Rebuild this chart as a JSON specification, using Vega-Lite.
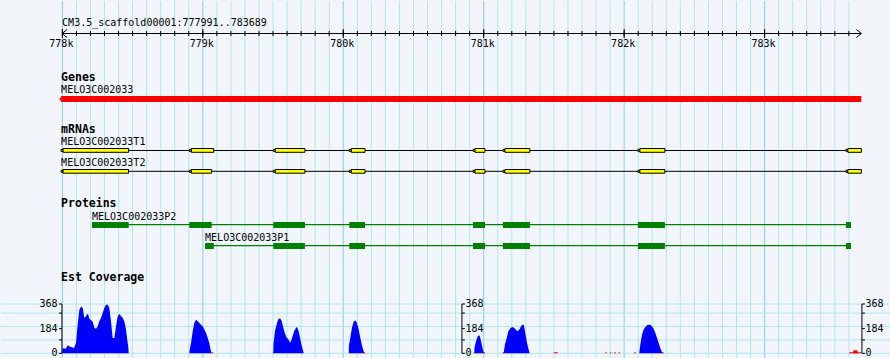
{
"$schema": "https://vega.github.io/schema/vega-lite/v6.json",
"padding": 0,
"spacing": 0,
"bounds": "flush",
"background": "#f2f5fa",
"config": {"view": {"stroke": null}, "concat": {"spacing": 0}, "text": {"font": "DejaVu Sans Mono", "fontSize": 10, "color": "black", "baseline": "alphabetic", "align": "left"}},
"datasets": {
"grid": [{"pos":778000},{"pos":778100},{"pos":778200},{"pos":778300},{"pos":778400},{"pos":778500},{"pos":778600},{"pos":778700},{"pos":778800},{"pos":778900},
{"pos":779000},{"pos":779100},{"pos":779200},{"pos":779300},{"pos":779400},{"pos":779500},{"pos":779600},{"pos":779700},{"pos":779800},{"pos":779900},
{"pos":780000},{"pos":780100},{"pos":780200},{"pos":780300},{"pos":780400},{"pos":780500},{"pos":780600},{"pos":780700},{"pos":780800},{"pos":780900},
{"pos":781000},{"pos":781100},{"pos":781200},{"pos":781300},{"pos":781400},{"pos":781500},{"pos":781600},{"pos":781700},{"pos":781800},{"pos":781900},
{"pos":782000},{"pos":782100},{"pos":782200},{"pos":782300},{"pos":782400},{"pos":782500},{"pos":782600},{"pos":782700},{"pos":782800},{"pos":782900},
{"pos":783000},{"pos":783100},{"pos":783200},{"pos":783300},{"pos":783400},{"pos":783500},{"pos":783600}],
"kb": [{"pos":778000,"label":"778k"},{"pos":779000,"label":"779k"},{"pos":780000,"label":"780k"},{"pos":781000,"label":"781k"},{"pos":782000,"label":"782k"},{"pos":783000,"label":"783k"}],
"gene": [{"name":"MELO3C002033","start":777991,"end":783689}],
"tx": [{"tx":"MELO3C002033T1","start":777991,"end":783689},{"tx":"MELO3C002033T2","start":777991,"end":783689}],
"exons": [
{"tx":"MELO3C002033T1","start":778005,"end":778472},{"tx":"MELO3C002033T1","start":778918,"end":779078},{"tx":"MELO3C002033T1","start":779516,"end":779727},{"tx":"MELO3C002033T1","start":780057,"end":780155},
{"tx":"MELO3C002033T1","start":780938,"end":781009},{"tx":"MELO3C002033T1","start":781151,"end":781329},{"tx":"MELO3C002033T1","start":782112,"end":782290},{"tx":"MELO3C002033T1","start":783593,"end":783689},
{"tx":"MELO3C002033T2","start":778005,"end":778472},{"tx":"MELO3C002033T2","start":778918,"end":779063},{"tx":"MELO3C002033T2","start":779516,"end":779727},{"tx":"MELO3C002033T2","start":780057,"end":780155},
{"tx":"MELO3C002033T2","start":780938,"end":781009},{"tx":"MELO3C002033T2","start":781151,"end":781329},{"tx":"MELO3C002033T2","start":782112,"end":782290},{"tx":"MELO3C002033T2","start":783593,"end":783689}],
"prot": [{"p":"MELO3C002033P2","start":778211,"end":783615},{"p":"MELO3C002033P1","start":779016,"end":783615}],
"cds": [
{"p":"MELO3C002033P2","start":778211,"end":778472},{"p":"MELO3C002033P2","start":778904,"end":779063},{"p":"MELO3C002033P2","start":779502,"end":779727},{"p":"MELO3C002033P2","start":780043,"end":780155},
{"p":"MELO3C002033P2","start":780924,"end":781009},{"p":"MELO3C002033P2","start":781137,"end":781329},{"p":"MELO3C002033P2","start":782098,"end":782290},{"p":"MELO3C002033P2","start":783579,"end":783615},
{"p":"MELO3C002033P1","start":779016,"end":779078},{"p":"MELO3C002033P1","start":779502,"end":779727},{"p":"MELO3C002033P1","start":780043,"end":780155},
{"p":"MELO3C002033P1","start":780924,"end":781009},{"p":"MELO3C002033P1","start":781137,"end":781329},{"p":"MELO3C002033P1","start":782098,"end":782290},{"p":"MELO3C002033P1","start":783579,"end":783615}],
"cov": [
{"seg":1,"pos":777997,"v":0},{"seg":1,"pos":778000,"v":35},{"seg":1,"pos":778026,"v":35},{"seg":1,"pos":778038,"v":60},{"seg":1,"pos":778050,"v":50},{"seg":1,"pos":778062,"v":47},{"seg":1,"pos":778083,"v":40},{"seg":1,"pos":778097,"v":77},{"seg":1,"pos":778109,"v":214},{"seg":1,"pos":778121,"v":326},{"seg":1,"pos":778133,"v":350},{"seg":1,"pos":778145,"v":338},{"seg":1,"pos":778156,"v":263},{"seg":1,"pos":778168,"v":276},{"seg":1,"pos":778176,"v":293},{"seg":1,"pos":778185,"v":288},{"seg":1,"pos":778192,"v":256},{"seg":1,"pos":778204,"v":251},{"seg":1,"pos":778216,"v":234},{"seg":1,"pos":778228,"v":189},{"seg":1,"pos":778240,"v":184},{"seg":1,"pos":778252,"v":201},{"seg":1,"pos":778263,"v":239},{"seg":1,"pos":778275,"v":264},{"seg":1,"pos":778287,"v":301},{"seg":1,"pos":778299,"v":338},{"seg":1,"pos":778311,"v":363},{"seg":1,"pos":778323,"v":363},{"seg":1,"pos":778334,"v":338},{"seg":1,"pos":778346,"v":239},{"seg":1,"pos":778358,"v":114},{"seg":1,"pos":778370,"v":114},{"seg":1,"pos":778382,"v":201},{"seg":1,"pos":778394,"v":276},{"seg":1,"pos":778405,"v":293},{"seg":1,"pos":778418,"v":276},{"seg":1,"pos":778430,"v":264},{"seg":1,"pos":778441,"v":239},{"seg":1,"pos":778453,"v":177},{"seg":1,"pos":778465,"v":77},{"seg":1,"pos":778470,"v":40},{"seg":1,"pos":778472,"v":0},
{"seg":2,"pos":778904,"v":0},{"seg":2,"pos":778905,"v":20},{"seg":2,"pos":778916,"v":77},{"seg":2,"pos":778928,"v":164},{"seg":2,"pos":778939,"v":226},{"seg":2,"pos":778952,"v":251},{"seg":2,"pos":778964,"v":239},{"seg":2,"pos":778975,"v":226},{"seg":2,"pos":778987,"v":214},{"seg":2,"pos":778999,"v":201},{"seg":2,"pos":779011,"v":177},{"seg":2,"pos":779023,"v":152},{"seg":2,"pos":779035,"v":114},{"seg":2,"pos":779046,"v":77},{"seg":2,"pos":779058,"v":15},{"seg":2,"pos":779063,"v":0},
{"seg":3,"pos":779502,"v":0},{"seg":3,"pos":779503,"v":67},{"seg":3,"pos":779514,"v":167},{"seg":3,"pos":779526,"v":216},{"seg":3,"pos":779537,"v":254},{"seg":3,"pos":779550,"v":261},{"seg":3,"pos":779562,"v":241},{"seg":3,"pos":779573,"v":191},{"seg":3,"pos":779585,"v":147},{"seg":3,"pos":779597,"v":117},{"seg":3,"pos":779609,"v":104},{"seg":3,"pos":779621,"v":80},{"seg":3,"pos":779628,"v":92},{"seg":3,"pos":779640,"v":129},{"seg":3,"pos":779651,"v":167},{"seg":3,"pos":779664,"v":191},{"seg":3,"pos":779671,"v":196},{"seg":3,"pos":779680,"v":172},{"seg":3,"pos":779687,"v":142},{"seg":3,"pos":779699,"v":80},{"seg":3,"pos":779711,"v":30},{"seg":3,"pos":779718,"v":0},
{"seg":4,"pos":780039,"v":0},{"seg":4,"pos":780040,"v":55},{"seg":4,"pos":780050,"v":117},{"seg":4,"pos":780062,"v":191},{"seg":4,"pos":780074,"v":236},{"seg":4,"pos":780084,"v":246},{"seg":4,"pos":780096,"v":229},{"seg":4,"pos":780107,"v":191},{"seg":4,"pos":780119,"v":129},{"seg":4,"pos":780131,"v":67},{"seg":4,"pos":780143,"v":22},{"seg":4,"pos":780150,"v":0},
{"seg":5,"pos":780933,"v":0},{"seg":5,"pos":780934,"v":40},{"seg":5,"pos":780945,"v":90},{"seg":5,"pos":780957,"v":127},{"seg":5,"pos":780969,"v":134},{"seg":5,"pos":780976,"v":114},{"seg":5,"pos":780986,"v":65},{"seg":5,"pos":780997,"v":15},{"seg":5,"pos":781004,"v":0},
{"seg":6,"pos":781142,"v":0},{"seg":6,"pos":781144,"v":15},{"seg":6,"pos":781151,"v":65},{"seg":6,"pos":781164,"v":114},{"seg":6,"pos":781175,"v":164},{"seg":6,"pos":781187,"v":184},{"seg":6,"pos":781199,"v":194},{"seg":6,"pos":781211,"v":194},{"seg":6,"pos":781223,"v":184},{"seg":6,"pos":781235,"v":169},{"seg":6,"pos":781246,"v":169},{"seg":6,"pos":781258,"v":184},{"seg":6,"pos":781265,"v":201},{"seg":6,"pos":781277,"v":214},{"seg":6,"pos":781285,"v":214},{"seg":6,"pos":781294,"v":164},{"seg":6,"pos":781306,"v":90},{"seg":6,"pos":781317,"v":40},{"seg":6,"pos":781327,"v":0},
{"seg":7,"pos":782108,"v":0},{"seg":7,"pos":782109,"v":15},{"seg":7,"pos":782115,"v":65},{"seg":7,"pos":782127,"v":139},{"seg":7,"pos":782139,"v":177},{"seg":7,"pos":782150,"v":194},{"seg":7,"pos":782162,"v":209},{"seg":7,"pos":782175,"v":214},{"seg":7,"pos":782186,"v":214},{"seg":7,"pos":782198,"v":201},{"seg":7,"pos":782210,"v":184},{"seg":7,"pos":782222,"v":152},{"seg":7,"pos":782234,"v":114},{"seg":7,"pos":782246,"v":77},{"seg":7,"pos":782257,"v":40},{"seg":7,"pos":782269,"v":10},{"seg":7,"pos":782274,"v":0}],
"low": [{"a":779063,"b":779074,"v":8},{"a":779497,"b":779505,"v":8},{"a":780143,"b":780156,"v":8},{"a":780929,"b":780938,"v":8},{"a":781000,"b":781010,"v":8},{"a":781135,"b":781147,"v":8},{"a":781500,"b":781527,"v":8},{"a":781865,"b":781875,"v":8},{"a":781899,"b":781908,"v":8},{"a":781930,"b":781940,"v":8},{"a":781961,"b":781970,"v":8},{"a":782072,"b":782084,"v":8},{"a":782269,"b":782281,"v":8},{"a":783603,"b":783686,"v":8},{"a":783631,"b":783662,"v":22}],
"covgrid": [{"v":0},{"v":100},{"v":200},{"v":300},{"v":368}],
"covticks": [{"v":0},{"v":100},{"v":184},{"v":300},{"v":368}],
"covlabels": [{"v":0},{"v":184},{"v":368}]
},
"vconcat": [
{"width": 890, "height": 290,
"layer": [
{"data": {"name": "grid"}, "mark": {"type": "rule", "strokeWidth": 1},
 "encoding": {"x": {"field": "pos", "type": "quantitative", "scale": {"domain": [777563, 783900], "nice": false, "zero": false}, "axis": null},
  "color": {"condition": {"test": "datum.pos % 1000 === 0", "value": "#8ccaec"}, "value": "#aee8ef"}}},
{"data": {"name": "grid"}, "mark": {"type": "rule", "color": "black", "strokeWidth": 1},
 "encoding": {"x": {"field": "pos", "type": "quantitative", "scale": {"domain": [777563, 783900], "nice": false, "zero": false}, "axis": null},
  "y": {"datum": 30, "type": "quantitative", "scale": {"domain": [290, 0], "nice": false, "zero": false}, "axis": null}, "y2": {"datum": 35}}},
{"data": {"name": "grid"}, "transform": [{"filter": "datum.pos % 1000 === 0"}], "mark": {"type": "rule", "color": "black", "strokeWidth": 1},
 "encoding": {"x": {"field": "pos", "type": "quantitative", "scale": {"domain": [777563, 783900], "nice": false, "zero": false}, "axis": null},
  "y": {"datum": 28, "type": "quantitative", "scale": {"domain": [290, 0], "nice": false, "zero": false}, "axis": null}, "y2": {"datum": 37}}},
{"data": {"values": [{"a": 777998, "b": 783689}]}, "mark": {"type": "rule", "color": "black", "strokeWidth": 1},
 "encoding": {"x": {"field": "a", "type": "quantitative", "scale": {"domain": [777563, 783900], "nice": false, "zero": false}, "axis": null}, "x2": {"field": "b"},
  "y": {"datum": 32.5, "type": "quantitative", "scale": {"domain": [290, 0], "nice": false, "zero": false}, "axis": null}}},
{"data": {"values": [{"a": 777998}]}, "mark": {"type": "point", "shape": "M 1.25 -1 L 0 0 L 1.25 1", "size": 64, "filled": false, "color": "black", "strokeWidth": 1, "opacity": 1},
 "encoding": {"x": {"field": "a", "type": "quantitative", "scale": {"domain": [777563, 783900], "nice": false, "zero": false}, "axis": null},
  "y": {"datum": 32.5, "type": "quantitative", "scale": {"domain": [290, 0], "nice": false, "zero": false}, "axis": null}}},
{"data": {"values": [{"a": 783689}]}, "mark": {"type": "point", "shape": "M -1.25 -1 L 0 0 L -1.25 1", "size": 64, "filled": false, "color": "black", "strokeWidth": 1, "opacity": 1},
 "encoding": {"x": {"field": "a", "type": "quantitative", "scale": {"domain": [777563, 783900], "nice": false, "zero": false}, "axis": null},
  "y": {"datum": 32.5, "type": "quantitative", "scale": {"domain": [290, 0], "nice": false, "zero": false}, "axis": null}}},
{"data": {"name": "kb"}, "mark": {"type": "text", "align": "center", "dx": -1},
 "encoding": {"x": {"field": "pos", "type": "quantitative", "scale": {"domain": [777563, 783900], "nice": false, "zero": false}, "axis": null},
  "y": {"datum": 46, "type": "quantitative", "scale": {"domain": [290, 0], "nice": false, "zero": false}, "axis": null}, "text": {"field": "label"}}},
{"data": {"values": [{"t": "CM3.5_scaffold00001:777991..783689", "a": 777998}]}, "mark": {"type": "text"},
 "encoding": {"x": {"field": "a", "type": "quantitative", "scale": {"domain": [777563, 783900], "nice": false, "zero": false}, "axis": null},
  "y": {"datum": 25, "type": "quantitative", "scale": {"domain": [290, 0], "nice": false, "zero": false}, "axis": null}, "text": {"field": "t"}}},
{"data": {"values": [{"t": "Genes", "a": 777991}]}, "mark": {"type": "text", "fontWeight": "bold", "fontSize": 11.5},
 "encoding": {"x": {"field": "a", "type": "quantitative", "scale": {"domain": [777563, 783900], "nice": false, "zero": false}, "axis": null},
  "y": {"datum": 80, "type": "quantitative", "scale": {"domain": [290, 0], "nice": false, "zero": false}, "axis": null}, "text": {"field": "t"}}},
{"data": {"name": "gene"}, "mark": {"type": "text"},
 "encoding": {"x": {"field": "start", "type": "quantitative", "scale": {"domain": [777563, 783900], "nice": false, "zero": false}, "axis": null},
  "y": {"datum": 92, "type": "quantitative", "scale": {"domain": [290, 0], "nice": false, "zero": false}, "axis": null}, "text": {"field": "name"}}},
{"data": {"name": "gene"}, "mark": {"type": "rect", "color": "#ff0000"},
 "encoding": {"x": {"field": "start", "type": "quantitative", "scale": {"domain": [777563, 783900], "nice": false, "zero": false}, "axis": null}, "x2": {"field": "end"},
  "y": {"datum": 95, "type": "quantitative", "scale": {"domain": [290, 0], "nice": false, "zero": false}, "axis": null}, "y2": {"datum": 101}}},
{"data": {"name": "gene"}, "mark": {"type": "point", "shape": "M -1 0 L 0 -1 L 0 1 Z", "size": 16, "filled": true, "color": "#ff0000", "opacity": 1},
 "encoding": {"x": {"field": "start", "type": "quantitative", "scale": {"domain": [777563, 783900], "nice": false, "zero": false}, "axis": null},
  "y": {"datum": 98, "type": "quantitative", "scale": {"domain": [290, 0], "nice": false, "zero": false}, "axis": null}}},
{"data": {"values": [{"t": "mRNAs", "a": 777991}]}, "mark": {"type": "text", "fontWeight": "bold", "fontSize": 11.5},
 "encoding": {"x": {"field": "a", "type": "quantitative", "scale": {"domain": [777563, 783900], "nice": false, "zero": false}, "axis": null},
  "y": {"datum": 131.7, "type": "quantitative", "scale": {"domain": [290, 0], "nice": false, "zero": false}, "axis": null}, "text": {"field": "t"}}},
{"data": {"name": "tx"}, "transform": [{"filter": "datum.tx === 'MELO3C002033T1'"}], "mark": {"type": "text"},
 "encoding": {"x": {"field": "start", "type": "quantitative", "scale": {"domain": [777563, 783900], "nice": false, "zero": false}, "axis": null},
  "y": {"datum": 144.3, "type": "quantitative", "scale": {"domain": [290, 0], "nice": false, "zero": false}, "axis": null}, "text": {"field": "tx"}}},
{"data": {"name": "tx"}, "transform": [{"filter": "datum.tx === 'MELO3C002033T2'"}], "mark": {"type": "text"},
 "encoding": {"x": {"field": "start", "type": "quantitative", "scale": {"domain": [777563, 783900], "nice": false, "zero": false}, "axis": null},
  "y": {"datum": 165.3, "type": "quantitative", "scale": {"domain": [290, 0], "nice": false, "zero": false}, "axis": null}, "text": {"field": "tx"}}},
{"data": {"name": "tx"}, "transform": [{"filter": "datum.tx === 'MELO3C002033T1'"}], "mark": {"type": "rule", "color": "black", "strokeWidth": 1},
 "encoding": {"x": {"field": "start", "type": "quantitative", "scale": {"domain": [777563, 783900], "nice": false, "zero": false}, "axis": null}, "x2": {"field": "end"},
  "y": {"datum": 149.5, "type": "quantitative", "scale": {"domain": [290, 0], "nice": false, "zero": false}, "axis": null}}},
{"data": {"name": "tx"}, "transform": [{"filter": "datum.tx === 'MELO3C002033T2'"}], "mark": {"type": "rule", "color": "black", "strokeWidth": 1},
 "encoding": {"x": {"field": "start", "type": "quantitative", "scale": {"domain": [777563, 783900], "nice": false, "zero": false}, "axis": null}, "x2": {"field": "end"},
  "y": {"datum": 170.3, "type": "quantitative", "scale": {"domain": [290, 0], "nice": false, "zero": false}, "axis": null}}},
{"data": {"name": "exons"}, "transform": [{"filter": "datum.tx === 'MELO3C002033T1'"}], "mark": {"type": "point", "shape": "M -1 -0.5 L 0 -0.5 L 0 0.5 L -1 0.5 Z", "size": 16, "filled": true, "fill": "#ffff00", "stroke": "black", "strokeWidth": 1, "opacity": 1},
 "encoding": {"x": {"field": "start", "type": "quantitative", "scale": {"domain": [777563, 783900], "nice": false, "zero": false}, "axis": null},
  "y": {"datum": 149.4, "type": "quantitative", "scale": {"domain": [290, 0], "nice": false, "zero": false}, "axis": null}}},
{"data": {"name": "exons"}, "transform": [{"filter": "datum.tx === 'MELO3C002033T2'"}], "mark": {"type": "point", "shape": "M -1 -0.5 L 0 -0.5 L 0 0.5 L -1 0.5 Z", "size": 16, "filled": true, "fill": "#ffff00", "stroke": "black", "strokeWidth": 1, "opacity": 1},
 "encoding": {"x": {"field": "start", "type": "quantitative", "scale": {"domain": [777563, 783900], "nice": false, "zero": false}, "axis": null},
  "y": {"datum": 170.3, "type": "quantitative", "scale": {"domain": [290, 0], "nice": false, "zero": false}, "axis": null}}},
{"data": {"name": "exons"}, "transform": [{"filter": "datum.tx === 'MELO3C002033T1'"}], "mark": {"type": "rect", "fill": "#ffff00", "stroke": "black", "strokeWidth": 1},
 "encoding": {"x": {"field": "start", "type": "quantitative", "scale": {"domain": [777563, 783900], "nice": false, "zero": false}, "axis": null}, "x2": {"field": "end"},
  "y": {"datum": 147.5, "type": "quantitative", "scale": {"domain": [290, 0], "nice": false, "zero": false}, "axis": null}, "y2": {"datum": 151.3}}},
{"data": {"name": "exons"}, "transform": [{"filter": "datum.tx === 'MELO3C002033T2'"}], "mark": {"type": "rect", "fill": "#ffff00", "stroke": "black", "strokeWidth": 1},
 "encoding": {"x": {"field": "start", "type": "quantitative", "scale": {"domain": [777563, 783900], "nice": false, "zero": false}, "axis": null}, "x2": {"field": "end"},
  "y": {"datum": 168.5, "type": "quantitative", "scale": {"domain": [290, 0], "nice": false, "zero": false}, "axis": null}, "y2": {"datum": 172.2}}},
{"data": {"values": [{"t": "Proteins", "a": 777991}]}, "mark": {"type": "text", "fontWeight": "bold", "fontSize": 11.5},
 "encoding": {"x": {"field": "a", "type": "quantitative", "scale": {"domain": [777563, 783900], "nice": false, "zero": false}, "axis": null},
  "y": {"datum": 205.7, "type": "quantitative", "scale": {"domain": [290, 0], "nice": false, "zero": false}, "axis": null}, "text": {"field": "t"}}},
{"data": {"name": "prot"}, "transform": [{"filter": "datum.p === 'MELO3C002033P2'"}], "mark": {"type": "text"},
 "encoding": {"x": {"field": "start", "type": "quantitative", "scale": {"domain": [777563, 783900], "nice": false, "zero": false}, "axis": null},
  "y": {"datum": 218.7, "type": "quantitative", "scale": {"domain": [290, 0], "nice": false, "zero": false}, "axis": null}, "text": {"field": "p"}}},
{"data": {"name": "prot"}, "transform": [{"filter": "datum.p === 'MELO3C002033P1'"}], "mark": {"type": "text"},
 "encoding": {"x": {"field": "start", "type": "quantitative", "scale": {"domain": [777563, 783900], "nice": false, "zero": false}, "axis": null},
  "y": {"datum": 239.7, "type": "quantitative", "scale": {"domain": [290, 0], "nice": false, "zero": false}, "axis": null}, "text": {"field": "p"}}},
{"data": {"name": "prot"}, "transform": [{"filter": "datum.p === 'MELO3C002033P2'"}], "mark": {"type": "rule", "color": "#008000", "strokeWidth": 1.2},
 "encoding": {"x": {"field": "start", "type": "quantitative", "scale": {"domain": [777563, 783900], "nice": false, "zero": false}, "axis": null}, "x2": {"field": "end"},
  "y": {"datum": 223.6, "type": "quantitative", "scale": {"domain": [290, 0], "nice": false, "zero": false}, "axis": null}}},
{"data": {"name": "prot"}, "transform": [{"filter": "datum.p === 'MELO3C002033P1'"}], "mark": {"type": "rule", "color": "#008000", "strokeWidth": 1.2},
 "encoding": {"x": {"field": "start", "type": "quantitative", "scale": {"domain": [777563, 783900], "nice": false, "zero": false}, "axis": null}, "x2": {"field": "end"},
  "y": {"datum": 244.6, "type": "quantitative", "scale": {"domain": [290, 0], "nice": false, "zero": false}, "axis": null}}},
{"data": {"name": "cds"}, "transform": [{"filter": "datum.p === 'MELO3C002033P2'"}], "mark": {"type": "rect", "color": "#008000"},
 "encoding": {"x": {"field": "start", "type": "quantitative", "scale": {"domain": [777563, 783900], "nice": false, "zero": false}, "axis": null}, "x2": {"field": "end"},
  "y": {"datum": 221, "type": "quantitative", "scale": {"domain": [290, 0], "nice": false, "zero": false}, "axis": null}, "y2": {"datum": 227}}},
{"data": {"name": "cds"}, "transform": [{"filter": "datum.p === 'MELO3C002033P1'"}], "mark": {"type": "rect", "color": "#008000"},
 "encoding": {"x": {"field": "start", "type": "quantitative", "scale": {"domain": [777563, 783900], "nice": false, "zero": false}, "axis": null}, "x2": {"field": "end"},
  "y": {"datum": 242, "type": "quantitative", "scale": {"domain": [290, 0], "nice": false, "zero": false}, "axis": null}, "y2": {"datum": 248}}},
{"data": {"values": [{"t": "Est Coverage", "a": 777991}]}, "mark": {"type": "text", "fontWeight": "bold", "fontSize": 11.5},
 "encoding": {"x": {"field": "a", "type": "quantitative", "scale": {"domain": [777563, 783900], "nice": false, "zero": false}, "axis": null},
  "y": {"datum": 280.3, "type": "quantitative", "scale": {"domain": [290, 0], "nice": false, "zero": false}, "axis": null}, "text": {"field": "t"}}}
]},
{"width": 890, "height": 68,
"layer": [
{"data": {"name": "grid"}, "mark": {"type": "rule", "strokeWidth": 1},
 "encoding": {"x": {"field": "pos", "type": "quantitative", "scale": {"domain": [777563, 783900], "nice": false, "zero": false}, "axis": null},
  "color": {"condition": {"test": "datum.pos % 1000 === 0", "value": "#8ccaec"}, "value": "#aee8ef"}}},
{"data": {"name": "covgrid"}, "mark": {"type": "rule", "color": "#aee8ef", "strokeWidth": 1},
 "encoding": {"y": {"field": "v", "type": "quantitative", "scale": {"domain": [-42.5, 465], "nice": false, "zero": false}, "axis": null}}},
{"data": {"name": "cov"}, "mark": {"type": "area", "color": "#0000ff", "opacity": 1, "interpolate": "linear"},
 "encoding": {"x": {"field": "pos", "type": "quantitative", "scale": {"domain": [777563, 783900], "nice": false, "zero": false}, "axis": null},
  "y": {"field": "v", "type": "quantitative", "stack": null, "scale": {"domain": [-42.5, 465], "nice": false, "zero": false}, "axis": null},
  "detail": {"field": "seg", "type": "nominal"}}},
{"data": {"name": "low"}, "mark": {"type": "rect", "color": "#ff0000"},
 "encoding": {"x": {"field": "a", "type": "quantitative", "scale": {"domain": [777563, 783900], "nice": false, "zero": false}, "axis": null}, "x2": {"field": "b"},
  "y": {"field": "v", "type": "quantitative", "scale": {"domain": [-42.5, 465], "nice": false, "zero": false}, "axis": null}, "y2": {"datum": 0}}},
{"data": {"values": [{"a": 777997}, {"a": 780845}, {"a": 783693}]}, "mark": {"type": "rule", "color": "black", "strokeWidth": 1},
 "encoding": {"x": {"field": "a", "type": "quantitative", "scale": {"domain": [777563, 783900], "nice": false, "zero": false}, "axis": null},
  "y": {"datum": 0, "type": "quantitative", "scale": {"domain": [-42.5, 465], "nice": false, "zero": false}, "axis": null}, "y2": {"datum": 368}}},
{"data": {"name": "covticks"}, "mark": {"type": "rule", "color": "black", "strokeWidth": 1},
 "encoding": {"x": {"datum": 777976, "type": "quantitative", "scale": {"domain": [777563, 783900], "nice": false, "zero": false}, "axis": null}, "x2": {"datum": 777997},
  "y": {"field": "v", "type": "quantitative", "scale": {"domain": [-42.5, 465], "nice": false, "zero": false}, "axis": null}}},
{"data": {"name": "covticks"}, "mark": {"type": "rule", "color": "black", "strokeWidth": 1},
 "encoding": {"x": {"datum": 780845, "type": "quantitative", "scale": {"domain": [777563, 783900], "nice": false, "zero": false}, "axis": null}, "x2": {"datum": 780866},
  "y": {"field": "v", "type": "quantitative", "scale": {"domain": [-42.5, 465], "nice": false, "zero": false}, "axis": null}}},
{"data": {"name": "covticks"}, "mark": {"type": "rule", "color": "black", "strokeWidth": 1},
 "encoding": {"x": {"datum": 783693, "type": "quantitative", "scale": {"domain": [777563, 783900], "nice": false, "zero": false}, "axis": null}, "x2": {"datum": 783714},
  "y": {"field": "v", "type": "quantitative", "scale": {"domain": [-42.5, 465], "nice": false, "zero": false}, "axis": null}}},
{"data": {"name": "covlabels"}, "mark": {"type": "text", "align": "right", "baseline": "middle"},
 "encoding": {"x": {"datum": 777965, "type": "quantitative", "scale": {"domain": [777563, 783900], "nice": false, "zero": false}, "axis": null},
  "y": {"field": "v", "type": "quantitative", "scale": {"domain": [-42.5, 465], "nice": false, "zero": false}, "axis": null}, "text": {"field": "v", "type": "quantitative"}}},
{"data": {"name": "covlabels"}, "mark": {"type": "text", "align": "left", "baseline": "middle"},
 "encoding": {"x": {"datum": 780870, "type": "quantitative", "scale": {"domain": [777563, 783900], "nice": false, "zero": false}, "axis": null},
  "y": {"field": "v", "type": "quantitative", "scale": {"domain": [-42.5, 465], "nice": false, "zero": false}, "axis": null}, "text": {"field": "v", "type": "quantitative"}}},
{"data": {"name": "covlabels"}, "mark": {"type": "text", "align": "left", "baseline": "middle"},
 "encoding": {"x": {"datum": 783718, "type": "quantitative", "scale": {"domain": [777563, 783900], "nice": false, "zero": false}, "axis": null},
  "y": {"field": "v", "type": "quantitative", "scale": {"domain": [-42.5, 465], "nice": false, "zero": false}, "axis": null}, "text": {"field": "v", "type": "quantitative"}}}
]}
]
}
